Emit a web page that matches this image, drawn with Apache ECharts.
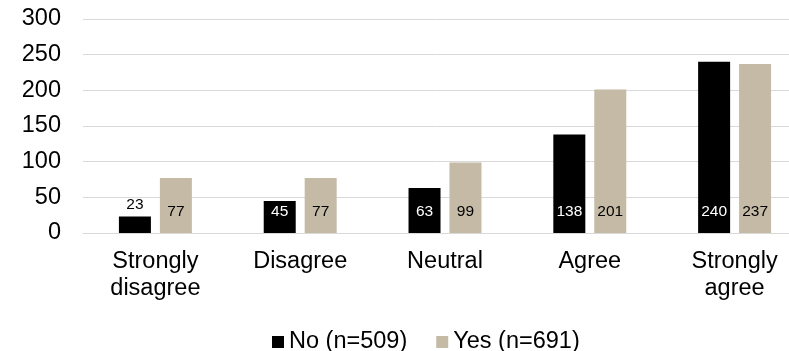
<!DOCTYPE html>
<html><head><meta charset="utf-8">
<script src="https://cdn.jsdelivr.net/npm/echarts@6/dist/echarts.min.js"></script>
<style>html,body{margin:0;padding:0;background:#fff}#c{width:789px;height:351px}</style>
</head><body><div id="c"></div>
<script>
const categories = ['Strongly\ndisagree', 'Disagree', 'Neutral', 'Agree', 'Strongly\nagree'];
const noValues = [23, 45, 63, 138, 240];
const yesValues = [77, 77, 99, 201, 237];
const seriesNames = ['No (n=509)', 'Yes (n=691)'];
const yTicks = [0, 50, 100, 150, 200, 250, 300];

const font = 'Liberation Sans, Arial, sans-serif';
const chart = echarts.init(document.getElementById('c'), null, {renderer: 'canvas'});
chart.setOption({
  animation: false,
  textStyle: {fontFamily: font},
  grid: {left: 83, top: 19, width: 724, height: 214, containLabel: false, outerBoundsMode: 'none'},
  legend: {
    left: 267, top: 325, itemWidth: 12, itemHeight: 12, itemGap: 29, icon: 'rect',
    textStyle: {fontSize: 23.5, color: '#000', fontFamily: font},
    data: seriesNames
  },
  xAxis: {
    type: 'category', data: categories,
    axisLine: {lineStyle: {color: '#d9d9d9', width: 1}},
    axisTick: {show: false},
    axisLabel: {fontSize: 23.5, color: '#000', lineHeight: 27, margin: 15, fontFamily: font, interval: 0}
  },
  yAxis: {
    type: 'value', min: yTicks[0], max: yTicks[yTicks.length - 1], interval: 50,
    axisLine: {show: false}, axisTick: {show: false},
    splitLine: {lineStyle: {color: '#d9d9d9', width: 1}},
    axisLabel: {fontSize: 23.5, color: '#000', margin: 22, fontFamily: font}
  },
  series: [
    {
      name: seriesNames[0], type: 'bar', data: noValues.map(v => v < 30 ? {value: v, label: {position: 'top', color: '#000', distance: 4}} : v),
      barWidth: 32, barGap: '28%', itemStyle: {color: '#000000'},
      label: {show: true, position: 'insideBottom', distance: 13.5, color: '#fff', fontSize: 15.5, fontFamily: font}
    },
    {
      name: seriesNames[1], type: 'bar', data: yesValues,
      barWidth: 32, barGap: '28%', itemStyle: {color: '#c4baa6'},
      label: {show: true, position: 'insideBottom', distance: 13.5, color: '#000', fontSize: 15.5, fontFamily: font}
    }
  ]
});
</script></body></html>
